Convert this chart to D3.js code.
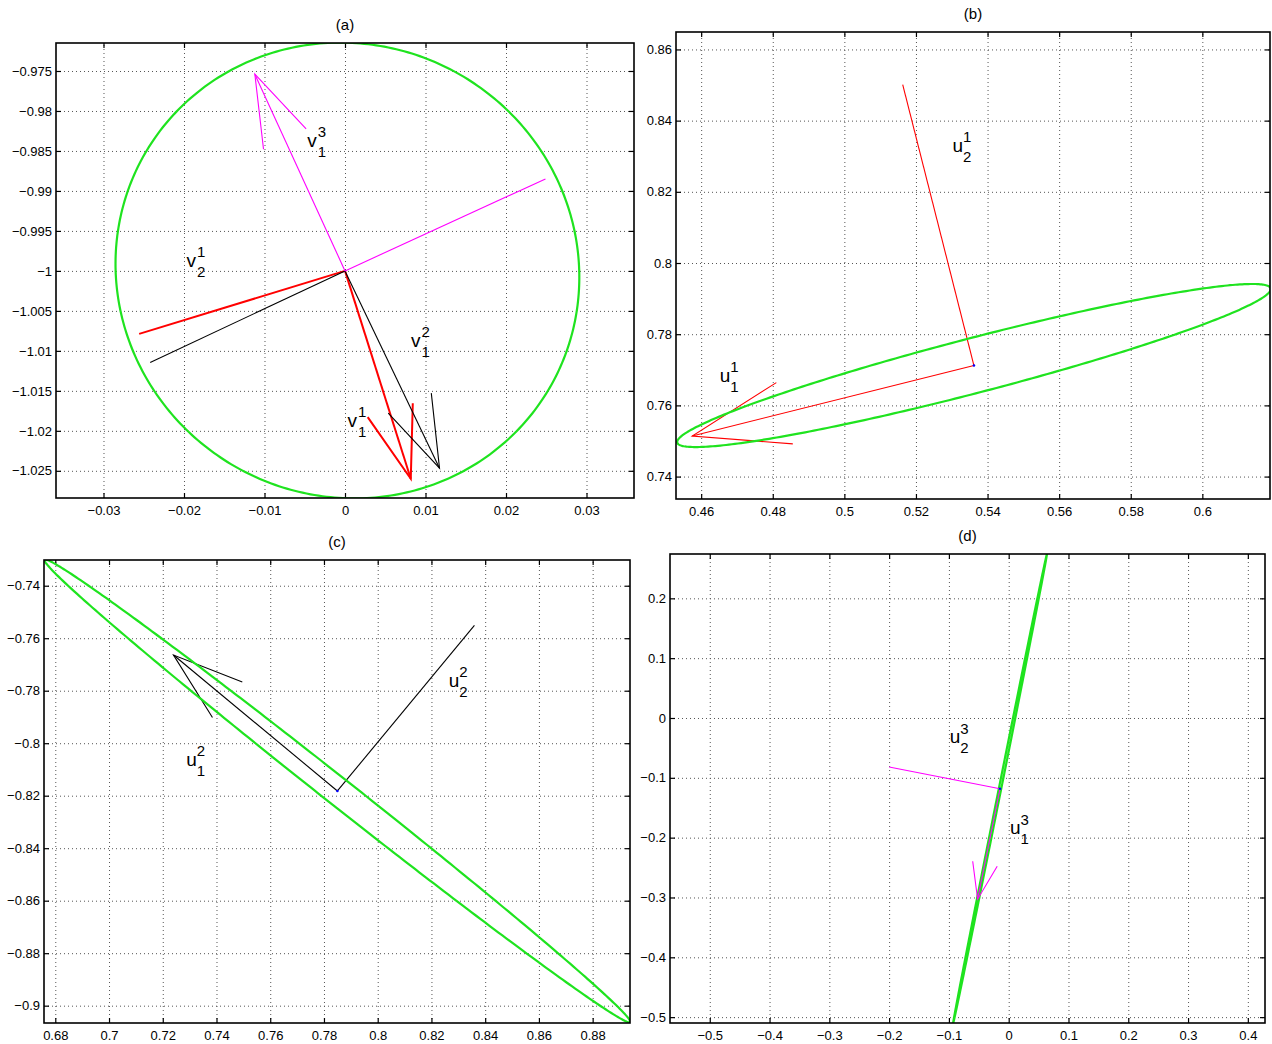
<!DOCTYPE html>
<html>
<head>
<meta charset="utf-8">
<script src="https://cdn.jsdelivr.net/npm/d3@7"></script>
<style>
  body { margin: 0; background: #fff; }
  text { font-family: "Liberation Sans", Arial, sans-serif; }
</style>
</head>
<body>
<svg id="chart" width="1272" height="1044"></svg>
<script>
// ---- panel (a) ----
const xTicksA = [-0.03, -0.02, -0.01, 0, 0.01, 0.02, 0.03];
const yTicksA = [-0.975, -0.98, -0.985, -0.99, -0.995, -1, -1.005, -1.01, -1.015, -1.02, -1.025];
const originA = [0, -1];
const ellipseA = { cx: 0.0003, cy: -0.99995, a: 0.0291, b: 0.0282, angle: -35 };
// k = index of the series (1 red, 2 black, 3 magenta)
const vectorsA = [
  { k: 1, tip: [-0.02557, -1.00788], head: [] },
  { k: 1, tip: [0.00817, -1.026], head: [[0.00282, -1.01829], [0.00842, -1.01654]] },
  { k: 2, tip: [-0.0242, -1.01146], head: [] },
  { k: 2, tip: [0.01174, -1.02467], head: [[0.00537, -1.01779], [0.01072, -1.01529]] },
  { k: 3, tip: [0.0249, -0.9885], head: [] },
  { k: 3, tip: [-0.0112, -0.9754], head: [[-0.00483, -0.98225], [-0.01012, -0.98479]] }
];
const labelsA = [
  { letter: "v", sup: "1", sub: "2", x: -0.0197, y: -0.9995 },
  { letter: "v", sup: "2", sub: "1", x: 0.0082, y: -1.0095 },
  { letter: "v", sup: "1", sub: "1", x: 0.0003, y: -1.0195 },
  { letter: "v", sup: "3", sub: "1", x: -0.0047, y: -0.9845 }
];

// ---- panel (b) ----
const xTicksB = [0.46, 0.48, 0.5, 0.52, 0.54, 0.56, 0.58, 0.6];
const yTicksB = [0.74, 0.76, 0.78, 0.8, 0.82, 0.84, 0.86];
const originB = [0.5362, 0.7712];
const ellipseB = { cx: 0.5362, cy: 0.7712, a: 0.08566, b: 0.0077, angle: 14.65 };
const vectorsB = [
  { k: 1, tip: [0.5163, 0.8501], head: [] },
  { k: 1, tip: [0.4575, 0.7514], head: [[0.4810, 0.7664], [0.4856, 0.7492]] }
];
const labelsB = [
  { letter: "u", sup: "1", sub: "2", x: 0.5302, y: 0.8313 },
  { letter: "u", sup: "1", sub: "1", x: 0.4652, y: 0.7667 }
];

// ---- panel (c) ----
const xTicksC = [0.68, 0.7, 0.72, 0.74, 0.76, 0.78, 0.8, 0.82, 0.84, 0.86, 0.88];
const yTicksC = [-0.74, -0.76, -0.78, -0.8, -0.82, -0.84, -0.86, -0.88, -0.9];
const originC = [0.785, -0.8182];
const ellipseC = { cx: 0.785, cy: -0.8182, a: 0.1401, b: 0.0052, angle: -38.95 };
const vectorsC = [
  { k: 2, tip: [0.8360, -0.7551], head: [] },
  { k: 2, tip: [0.7240, -0.7664], head: [[0.7496, -0.7767], [0.7385, -0.7902]] }
];
const labelsC = [
  { letter: "u", sup: "2", sub: "2", x: 0.8264, y: -0.7784 },
  { letter: "u", sup: "2", sub: "1", x: 0.7287, y: -0.8085 }
];

// ---- panel (d) ----
const xTicksD = [-0.5, -0.4, -0.3, -0.2, -0.1, 0, 0.1, 0.2, 0.3, 0.4];
const yTicksD = [0.2, 0.1, 0, -0.1, -0.2, -0.3, -0.4, -0.5];
const originD = [-0.0145, -0.1182];
const ellipseD = { cx: -0.0145, cy: -0.1182, a: 0.3998, b: 0.002, angle: 78.69 };
const vectorsD = [
  { k: 3, tip: [-0.1999, -0.082], head: [] },
  { k: 3, tip: [-0.052, -0.3029], head: [[-0.0602, -0.2394], [-0.0192, -0.2477]] }
];
const labelsD = [
  { letter: "u", sup: "3", sub: "2", x: -0.0986, y: -0.0425 },
  { letter: "u", sup: "3", sub: "1", x: 0.0022, y: -0.1939 }
];

const seriesColor = { 1: "#ff0000", 2: "#000000", 3: "#ff00ff" };
const green = "#1fe31f";

const panels = [
  { id: "a", title: "(a)", box: { l: 56, r: 634, t: 43, b: 498 },
    xDomain: [-0.0359, 0.0359], yDomain: [-1.0284, -0.9715],
    xTicks: xTicksA, yTicks: yTicksA, origin: originA, ellipse: ellipseA,
    vectors: vectorsA, labels: labelsA, thick: [1], ellipseOnTop: false, dot: false },
  { id: "b", title: "(b)", box: { l: 676, r: 1270, t: 32, b: 499 },
    xDomain: [0.45297, 0.6189], yDomain: [0.7337, 0.8649],
    xTicks: xTicksB, yTicks: yTicksB, origin: originB, ellipse: ellipseB,
    vectors: vectorsB, labels: labelsB, thick: [], ellipseOnTop: true, dot: true },
  { id: "c", title: "(c)", box: { l: 44, r: 630, t: 560, b: 1023 },
    xDomain: [0.6758, 0.8939], yDomain: [-0.9066, -0.7302],
    xTicks: xTicksC, yTicks: yTicksC, origin: originC, ellipse: ellipseC,
    vectors: vectorsC, labels: labelsC, thick: [], ellipseOnTop: true, dot: true },
  { id: "d", title: "(d)", box: { l: 670, r: 1265, t: 554, b: 1023 },
    xDomain: [-0.5665, 0.4287], yDomain: [-0.5098, 0.2741],
    xTicks: xTicksD, yTicks: yTicksD, origin: originD, ellipse: ellipseD,
    vectors: vectorsD, labels: labelsD, thick: [], ellipseOnTop: false, dot: true }
];

const svg = d3.select("#chart");
svg.append("rect").attr("width", 1272).attr("height", 1044).attr("fill", "#fff");

function ellipsePoints(e) {
  const th = e.angle * Math.PI / 180;
  return d3.range(0, 361).map(function(i) {
    const t = i * Math.PI / 180;
    return [
      e.cx + e.a * Math.cos(th) * Math.cos(t) - e.b * Math.sin(th) * Math.sin(t),
      e.cy + e.a * Math.sin(th) * Math.cos(t) + e.b * Math.cos(th) * Math.sin(t)
    ];
  });
}

function drawPanel(p) {
  const box = p.box;
  const w = box.r - box.l, h = box.b - box.t;
  const x = d3.scaleLinear().domain(p.xDomain).range([box.l, box.r]);
  const y = d3.scaleLinear().domain(p.yDomain).range([box.b, box.t]);
  const g = svg.append("g");

  g.append("clipPath").attr("id", "clip-" + p.id)
    .append("rect").attr("x", box.l).attr("y", box.t).attr("width", w).attr("height", h);

  // dotted grid
  const gx = g.append("g").attr("transform", `translate(0,${box.b})`)
    .call(d3.axisBottom(x).tickValues(p.xTicks).tickSize(-h).tickFormat(""));
  const gy = g.append("g").attr("transform", `translate(${box.l},0)`)
    .call(d3.axisLeft(y).tickValues(p.yTicks).tickSize(-w).tickFormat(""));
  [gx, gy].forEach(function(s) {
    s.select(".domain").remove();
    s.selectAll("line").attr("stroke", "#555").attr("stroke-dasharray", "1,3");
  });

  // inward ticks on all four sides
  const fmt = d3.format("~g");
  const axes = [
    { ax: d3.axisBottom(x).tickFormat(fmt).tickPadding(8), tr: `translate(0,${box.b})`, ticks: p.xTicks },
    { ax: d3.axisTop(x).tickFormat(""), tr: `translate(0,${box.t})`, ticks: p.xTicks },
    { ax: d3.axisLeft(y).tickFormat(fmt).tickPadding(4), tr: `translate(${box.l},0)`, ticks: p.yTicks },
    { ax: d3.axisRight(y).tickFormat(""), tr: `translate(${box.r},0)`, ticks: p.yTicks }
  ];
  axes.forEach(function(a) {
    const s = g.append("g").attr("transform", a.tr)
      .call(a.ax.tickValues(a.ticks).tickSizeInner(-5).tickSizeOuter(0));
    s.select(".domain").remove();
    s.selectAll("line").attr("stroke-width", 1.2);
    s.selectAll("text").attr("fill", "#000").style("font-size", "13px");
  });

  const plot = g.append("g").attr("clip-path", `url(#clip-${p.id})`);
  const line = d3.line().x(function(d) { return x(d[0]); }).y(function(d) { return y(d[1]); });

  function drawEllipse() {
    plot.append("path")
      .attr("d", line.curve(d3.curveLinearClosed)(ellipsePoints(p.ellipse)))
      .attr("fill", "none").attr("stroke", green).attr("stroke-width", 2.2);
    line.curve(d3.curveLinear);
  }

  if (!p.ellipseOnTop) drawEllipse();

  // draw series in order red, black, magenta
  p.vectors.slice().sort(function(a, b) { return a.k - b.k; }).forEach(function(v) {
    const sw = p.thick.indexOf(v.k) >= 0 ? 2 : 1.1;
    plot.append("path").attr("d", line([p.origin, v.tip]))
      .attr("fill", "none").attr("stroke", seriesColor[v.k]).attr("stroke-width", sw);
    if (v.head.length) {
      plot.append("path").attr("d", line([v.head[0], v.tip, v.head[1]]))
        .attr("fill", "none").attr("stroke", seriesColor[v.k]).attr("stroke-width", sw)
        .attr("stroke-linejoin", "miter");
    }
  });

  if (p.ellipseOnTop) drawEllipse();

  if (p.dot) {
    plot.append("circle").attr("cx", x(p.origin[0])).attr("cy", y(p.origin[1]))
      .attr("r", 1.3).attr("fill", "#0000ff");
  }

  // frame
  g.append("rect").attr("x", box.l).attr("y", box.t).attr("width", w).attr("height", h)
    .attr("fill", "none").attr("stroke", "#000").attr("stroke-width", 1.6);

  // title
  g.append("text").attr("x", (box.l + box.r) / 2).attr("y", box.t - 13)
    .attr("text-anchor", "middle").attr("font-size", 15).text(p.title);

  // vector labels with stacked super/subscripts
  p.labels.forEach(function(lb) {
    const px = x(lb.x), py = y(lb.y);
    g.append("text").attr("x", px).attr("y", py).attr("font-size", 19).text(lb.letter);
    g.append("text").attr("x", px + 10.5).attr("y", py - 9.5).attr("font-size", 15).text(lb.sup);
    g.append("text").attr("x", px + 10.5).attr("y", py + 10).attr("font-size", 15).text(lb.sub);
  });
}

panels.forEach(drawPanel);
</script>
</body>
</html>
